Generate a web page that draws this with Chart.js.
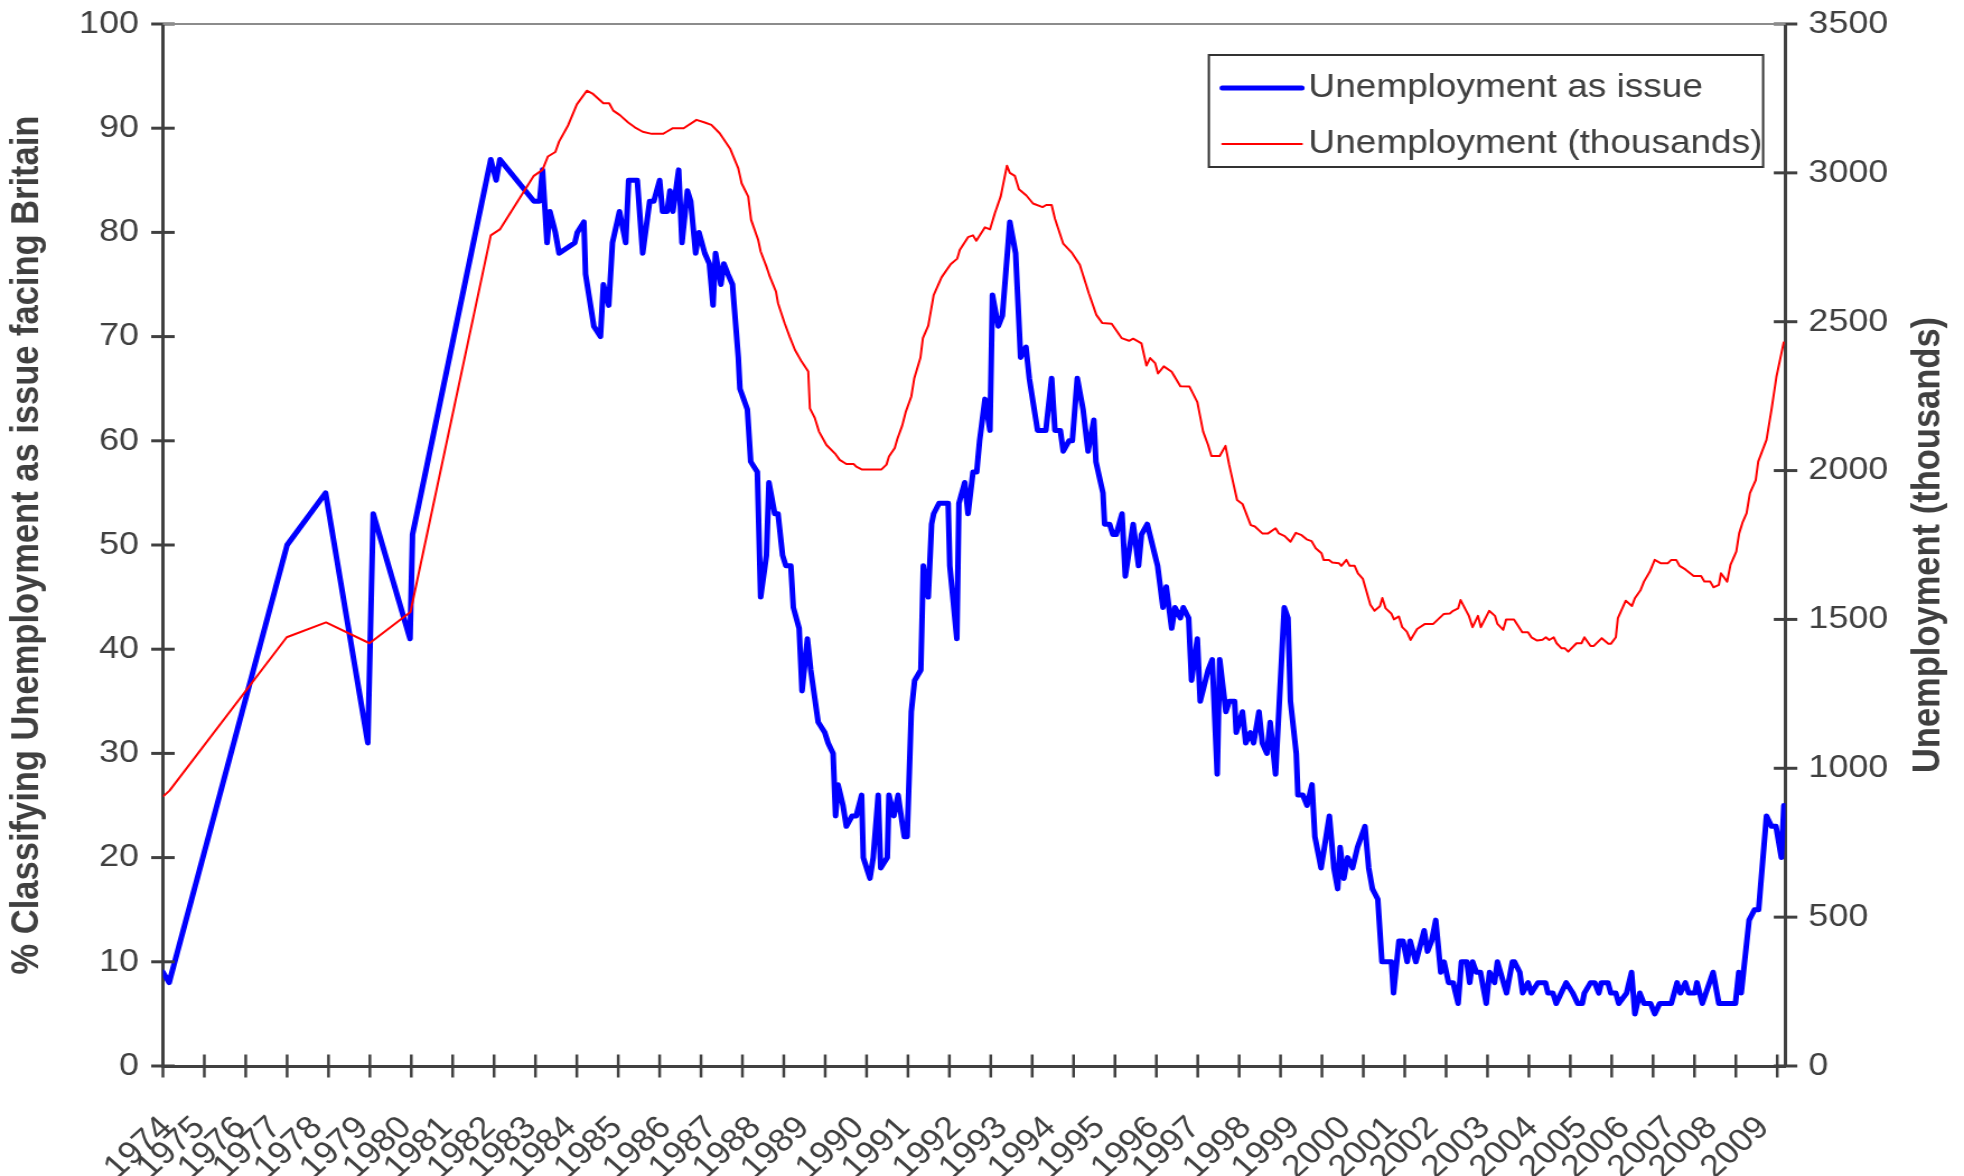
<!DOCTYPE html>
<html>
<head>
<meta charset="utf-8">
<title>Unemployment as issue facing Britain</title>
<script src="https://cdn.jsdelivr.net/npm/chart.js@4.4.0/dist/chart.umd.min.js"></script>
<style>
  html, body { margin: 0; padding: 0; background: #fff; }
</style>
</head>
<body>
<!-- drawn 1754 wide, shown 1964 wide like the original export -->
<canvas id="chart" width="1754" height="1176" style="display:block;width:1964px;height:1176px"></canvas>
<script>
// x axis = survey number (category index), labels on the first survey of each year
const yearAt = [1, 8.9, 18.8, 27.3, 37.2, 48.3, 58.7, 68.6, 79, 88.9, 98.6, 109.7, 121.5, 132.6, 143.2, 154.8, 168.1, 179.2,
  191.5, 202.7, 214.5, 226.3, 239.4, 249.3, 261.6, 273.4, 285.7, 296.9, 306.8, 319.3, 330.9, 342.8, 353.1, 364.3, 374.2, 386.7];
const yearLabels = ["1974","1975","1976","1977","1978","1979","1980","1981","1982","1983","1984","1985","1986","1987","1988",
  "1989","1990","1991","1992","1993","1994","1995","1996","1997","1998","1999","2000","2001","2002","2003","2004","2005",
  "2006","2007","2008","2009"];

// % classifying unemployment as an issue
const issueAt = [0, 1.5, 30, 39.3, 49.5, 50.8, 59.7, 60.3, 79.2, 80.5, 81.4, 89.6, 91, 91.7, 92.8, 93.5, 94.8, 95.7, 99.5, 100.1,
  101.7, 102.1, 104.1, 105.7, 106.4, 107.7, 108.6, 110.3, 111.8, 112.5, 114.6, 115.9, 117.6, 118.6, 120, 120.7, 121.8, 122.5,
  123.2, 124.6, 125.4, 126.7, 127.5, 128.7, 129.5, 130.9, 132, 132.9, 133.5, 134.8, 135.5, 136.5, 137.6, 139, 139.4, 141.2,
  142, 143.6, 144.4, 145.8, 146.4, 147.8, 148.6, 149.7, 150.5, 151.7, 152.3, 153.7, 154.4, 155.7, 156.5, 158.3, 159.9, 160.7,
  161.9, 162.5, 163.1, 164.3, 165.1, 166.5, 167.5, 168.8, 169.2, 170.8, 171.6, 172.8, 173.4, 175, 175.4, 176.6, 177.6, 179.1,
  179.8, 180.8, 181.6, 183.1, 183.7, 184.9, 185.7, 186.2, 187.5, 189.7, 190.1, 191.8, 192.3, 193.7, 194.5, 195.7, 196.6,
  197.3, 198.6, 199.8, 200.4, 201.8, 202.8, 204.6, 206, 207.2, 208.5, 209.3, 211.3, 213.3, 214.7, 215.5, 216.8, 217.5, 218.9,
  219.7, 220.9, 222.3, 223.5, 224.9, 225.4, 227.1, 227.5, 228.7, 229.5, 230.3, 231.7, 232.5, 234.4, 235.7, 236.4, 237.8,
  240.3, 241.6, 242.4, 243.7, 244.5, 245.8, 246.5, 247.8, 248.5, 249.9, 250.6, 252.5, 253.5, 254.7, 255.3, 256.8, 257.6,
  258.9, 259.3, 260.8, 261.6, 262.7, 263.5, 264.8, 265.6, 266.7, 267.5, 268.8, 270.9, 271.8, 272.4, 273.8, 274.2, 275.4,
  276.4, 277.6, 278.3, 279.8, 281.8, 282.9, 283.8, 284.4, 285.3, 286.2, 287.4, 288.6, 290.4, 291.3, 292.2, 293.5, 294.5,
  296.8, 297.3, 298.6, 299.6, 300.6, 301.3, 302.7, 304.7, 305.5, 306.5, 307.5, 308.7, 309.5, 310.6, 311.7, 312.9, 313.7,
  315, 315.7, 316.4, 317.3, 318.3, 319.7, 320.5, 321.7, 322.4, 324.6, 326, 326.5, 327.8, 328.5, 329.8, 330.6, 332.2, 334,
  334.6, 335.8, 336.6, 337.8, 339, 340.6, 341.8, 342.9, 343.4, 344.9, 345.9, 346.9, 347.5, 349.1, 349.8, 351, 351.7, 353.6,
  354.8, 355.6, 356.8, 357.8, 359.4, 360.4, 361.6, 364.4, 365.8, 366.6, 367.8, 368.6, 370.1, 370.6, 371.9, 374.5, 375.9,
  379.9, 380.7, 381.3, 383.2, 384.5, 385.5, 387.4, 388.6, 389.7, 391, 391.6];
const issuePct = [9, 8, 50, 55, 31, 53, 41, 51, 87, 85, 87, 83, 83, 86, 79, 82, 80, 78, 79, 80,
  81, 76, 71, 70, 75, 73, 79, 82, 79, 85, 85, 78, 83, 83, 85, 82, 82, 84,
  82, 86, 79, 84, 83, 78, 80, 78, 77, 73, 78, 75, 77, 76, 75, 68, 65, 63,
  58, 57, 45, 49, 56, 53, 53, 49, 48, 48, 44, 42, 36, 41, 38, 33, 32, 31,
  30, 24, 27, 25, 23, 24, 24, 26, 20, 18, 20, 26, 19, 20, 26, 24, 26, 22,
  22, 34, 37, 38, 48, 45, 52, 53, 54, 54, 48, 41, 54, 56, 53, 57, 57,
  60, 64, 61, 74, 71, 72, 81, 78, 68, 69, 66, 61, 61, 66, 61, 61, 59, 60,
  60, 66, 63, 59, 62, 58, 55, 52, 52, 51, 51, 53, 47, 52, 48, 51, 52,
  48, 44, 46, 42, 44, 43, 44, 43, 37, 41, 35, 38, 39, 28, 39, 34, 35,
  35, 32, 34, 31, 32, 31, 34, 31, 30, 33, 28, 44, 43, 35, 30, 26, 26,
  25, 27, 22, 19, 24, 19, 17, 21, 18, 20, 19, 21, 23, 19, 17, 16, 10,
  10, 7, 12, 12, 10, 12, 10, 13, 11, 12, 14, 9, 10, 8, 8, 6, 10,
  10, 8, 10, 9, 9, 6, 9, 8, 10, 7, 10, 10, 9, 7, 8, 7, 8, 8,
  7, 7, 6, 7, 8, 7, 6, 6, 7, 8, 8, 7, 8, 8, 7, 7, 6, 7,
  9, 5, 7, 6, 6, 5, 6, 6, 8, 7, 8, 7, 7, 8, 6, 9, 6,
  6, 9, 7, 14, 15, 15, 24, 23, 23, 20, 25];

// unemployment, thousands
const joblessAt = [0, 1.6, 29.9, 39.4, 49.9, 59.8, 79.2, 81.4, 89.6, 91.7, 93, 94.8, 95.7, 97.9, 100, 102.4, 103.9, 106.4,
  107.8, 108.8, 110.4, 112.4, 114, 115.9, 118.1, 120.8, 121.7, 123.2, 125.8, 128.9, 130.9, 132.5, 134.5, 137, 139, 139.8,
  141.4, 142.1, 143.8, 144.4, 145.8, 146.6, 148.1, 148.6, 150.2, 151.4, 152.7, 154.3, 155.9, 156.3, 157.5, 158.5, 160.3,
  162.5, 163.5, 165.1, 166.9, 167.5, 168.8, 173.6, 174.8, 175.4, 176.8, 177.4, 178.6, 179.5, 180.8, 181.5, 183, 183.6,
  184.9, 186.2, 188.1, 190.3, 191.9, 192.5, 194.5, 195.7, 196.5, 198.6, 199.8, 201, 202.4, 203.9, 204.6, 205.8, 206.8,
  208.6, 210.2, 212.5, 213.4, 214.7, 215.5, 217.5, 219.5, 221.5, 223.7, 225.5, 226.9, 229.2, 231.6, 233.4, 234.4, 236.4,
  237.6, 238.5, 239.7, 240.4, 241.8, 243.7, 245.8, 248, 249.9, 251.3, 252.5, 253.3, 255.3, 256.7, 257.6, 259.5, 260.8,
  262.8, 263.8, 265.6, 267, 268.8, 269.6, 271, 272.4, 273.7, 275.1, 276.3, 277.5, 278.5, 279.9, 280.4, 281.7, 282.5,
  284.1, 284.7, 285.9, 286.7, 287.9, 288.7, 289.9, 291.7, 292.7, 294, 294.6, 295.4, 296.8, 297.4, 298.6, 299.4, 300.5,
  301.4, 303, 304.9, 306.9, 309.4, 310.9, 311.7, 312.9, 313.5, 315.5, 316.4, 317.7, 318.4, 320.4, 321.8, 322.4, 323.8,
  324.5, 326.4, 328.4, 329.8, 330.6, 332, 333.3, 334.1, 334.9, 336, 336.7, 337.9, 338.7, 339.5, 341.5, 342.7, 343.4,
  344.9, 345.7, 347.6, 349.2, 349.8, 351, 351.5, 353.4, 354.9, 355.6, 357, 357.8, 359.2, 360.4, 361.8, 363.6, 364.4,
  365.6, 366.4, 367.8, 369.8, 371.6, 372.4, 373.8, 374.6, 375.9, 376.4, 377.9, 378.7, 380.1, 380.8, 381.6, 382.6, 383.4,
  384.8, 385.4, 387.4, 388.6, 389.8, 391.6];
const joblessK = [905, 925, 1440, 1490, 1420, 1525, 2790, 2810, 2990, 3010, 3055, 3070, 3105, 3160, 3230, 3276, 3265, 3234,
  3234, 3209, 3194, 3169, 3153, 3138, 3131, 3131, 3138, 3150, 3150, 3178, 3169, 3161, 3133, 3082, 3015, 2965,
  2920, 2842, 2775, 2736, 2685, 2652, 2601, 2562, 2495, 2450, 2405, 2366, 2333, 2209, 2176, 2131, 2086,
  2055, 2036, 2022, 2022, 2013, 2004, 2004, 2020, 2047, 2076, 2105, 2151, 2199, 2249, 2309, 2379, 2445,
  2487, 2589, 2649, 2693, 2712, 2741, 2784, 2790, 2772, 2817, 2810, 2865, 2921, 3024, 3000, 2990, 2945,
  2924, 2897, 2885, 2892, 2892, 2846, 2762, 2733, 2691, 2595, 2523, 2496, 2493, 2445, 2436, 2443, 2427,
  2353, 2378, 2361, 2326, 2350, 2332, 2283, 2282, 2230, 2131, 2086, 2049, 2049, 2083, 2019, 1901, 1888,
  1817, 1812, 1789, 1789, 1806, 1789, 1780, 1761, 1791, 1783, 1769, 1763, 1739, 1722, 1700, 1700, 1691,
  1689, 1680, 1700, 1680, 1680, 1655, 1636, 1549, 1529, 1544, 1572, 1537, 1519, 1500, 1510, 1474, 1459,
  1431, 1468, 1485, 1485, 1518, 1520, 1529, 1537, 1565, 1512, 1474, 1512, 1474, 1529, 1512, 1485, 1465,
  1500, 1500, 1457, 1457, 1440, 1429, 1432, 1440, 1431, 1440, 1420, 1403, 1403, 1392, 1420, 1420, 1440,
  1411, 1411, 1437, 1418, 1418, 1440, 1504, 1563, 1545, 1571, 1599, 1627, 1660, 1700, 1689, 1689, 1700,
  1700, 1680, 1668, 1646, 1646, 1627, 1627, 1608, 1616, 1655, 1627, 1683, 1728, 1789, 1825, 1857, 1924,
  1968, 2030, 2103, 2204, 2315, 2433];

const ink = "#404040";
const fontFamily = '"Liberation Sans", Arial, sans-serif';
const tickEvery = 10;   // tick marks every 10 surveys
Chart.defaults.font.family = fontFamily;
Chart.defaults.color = ink;

// tick marks crossing the axes
const tickMarks = {
    id: "tickMarks",
    afterDraw(chart){
        const {ctx} = chart;
        const {x, y, y1} = chart.scales;
        ctx.save();
        ctx.strokeStyle = ink;
        ctx.lineWidth = 2.5;
        for(let v=0; v<=x.max; v+=tickEvery){
            const px = x.getPixelForValue(v);
            ctx.beginPath(); ctx.moveTo(px, x.top-11.5); ctx.lineTo(px, x.top+11.5); ctx.stroke();
        }
        ctx.lineWidth = 3;
        y.ticks.forEach(t => {
            const py = y.getPixelForValue(t.value);
            ctx.beginPath(); ctx.moveTo(y.right-10.5, py); ctx.lineTo(y.right+10.5, py); ctx.stroke();
        });
        y1.ticks.forEach(t => {
            const py = y1.getPixelForValue(t.value);
            ctx.beginPath(); ctx.moveTo(y1.left-10.5, py); ctx.lineTo(y1.left+10.5, py); ctx.stroke();
        });
        // grey frame line on top of the plot
        const a = chart.chartArea;
        ctx.strokeStyle = "#8c8c8c";
        ctx.lineWidth = 2;
        ctx.beginPath(); ctx.moveTo(a.left, a.top); ctx.lineTo(a.right, a.top); ctx.stroke();
        ctx.restore();
    }
};

// boxed legend in the top right corner + right axis title reading upwards
const extras = {
    id: "extras",
    afterDraw(chart){
        const {ctx, chartArea} = chart;
        const x0 = chartArea.right - 515, y0 = chartArea.top + 31;
        ctx.save();
        ctx.fillStyle = "#fff";
        ctx.fillRect(x0, y0, 495, 112);
        ctx.strokeStyle = "#333";
        ctx.lineWidth = 2;
        ctx.strokeRect(x0, y0, 495, 112);
        chart.data.datasets.forEach((ds, i) => {
            const cy = y0 + 33 + i*56;
            ctx.strokeStyle = ds.borderColor;
            ctx.lineWidth = ds.borderWidth;
            ctx.lineCap = "round";
            ctx.beginPath(); ctx.moveTo(x0+12, cy); ctx.lineTo(x0+83, cy); ctx.stroke();
            ctx.fillStyle = ink;
            ctx.font = "33px " + fontFamily;
            ctx.textBaseline = "middle";
            ctx.textAlign = "left";
            ctx.fillText(ds.label, x0+89, cy);
        });
        const y1 = chart.scales.y1;
        ctx.translate(y1.right - 32, (chartArea.top + chartArea.bottom)/2);
        ctx.rotate(-Math.PI/2);
        ctx.font = "bold 34.5px " + fontFamily;
        ctx.textAlign = "center";
        ctx.textBaseline = "middle";
        ctx.fillStyle = ink;
        ctx.fillText("Unemployment (thousands)", 0, 0);
        ctx.restore();
    }
};

// fixed axis sizes so the plot sits where the original one does
function fixVertical(width){
    return s => { s.width = width; s.paddingTop = 0; s.paddingBottom = 0; };
}

new Chart(document.getElementById("chart"), {
    type: "line",
    data: {
        datasets: [
            {
                label: "Unemployment as issue",
                data: issueAt.map((v,i) => ({x: v, y: issuePct[i]})),
                yAxisID: "y",
                borderColor: "#0000ff",
                borderWidth: 5,
                borderJoinStyle: "round",
                borderCapStyle: "round",
                pointRadius: 0,
                tension: 0,
                order: 1
            },
            {
                label: "Unemployment (thousands)",
                data: joblessAt.map((v,i) => ({x: v, y: joblessK[i]})),
                yAxisID: "y1",
                borderColor: "#ff0000",
                borderWidth: 2,
                borderJoinStyle: "round",
                pointRadius: 0,
                tension: 0,
                order: 0
            }
        ]
    },
    options: {
        responsive: false,
        devicePixelRatio: 1,
        animation: false,
        layout: {padding: {top: 24, left: 0, right: 0, bottom: 0}},
        plugins: {legend: {display: false}, tooltip: {enabled: false}},
        scales: {
            x: {
                type: "linear",
                min: 0,
                max: 392,
                grid: {display: false},
                border: {display: true, color: ink, width: 3},
                afterBuildTicks: axis => { axis.ticks = yearAt.map(v => ({value: v})); },
                afterFit: s => { s.height = 110; },
                ticks: {
                    autoSkip: false,
                    minRotation: 45,
                    maxRotation: 45,
                    padding: 35,
                    color: ink,
                    font: {size: 32},
                    callback: (v, i) => yearLabels[i]
                }
            },
            y: {
                position: "left",
                min: 0,
                max: 100,
                grid: {display: false},
                border: {display: true, color: ink, width: 3},
                afterFit: fixVertical(145.5),
                ticks: {stepSize: 10, padding: 13.5, color: ink, font: {size: 32}},
                title: {
                    display: true,
                    text: "% Classifying Unemployment as issue facing Britain",
                    color: ink,
                    font: {size: 34.5, weight: "bold"},
                    padding: {top: 4, bottom: 0}
                }
            },
            y1: {
                position: "right",
                min: 0,
                max: 3500,
                grid: {display: false},
                border: {display: true, color: ink, width: 3},
                afterFit: fixVertical(159.4),
                ticks: {stepSize: 500, padding: 12.5, color: ink, font: {size: 32}, callback: v => String(v)}
            }
        }
    },
    plugins: [tickMarks, extras]
});
</script>
</body>
</html>
